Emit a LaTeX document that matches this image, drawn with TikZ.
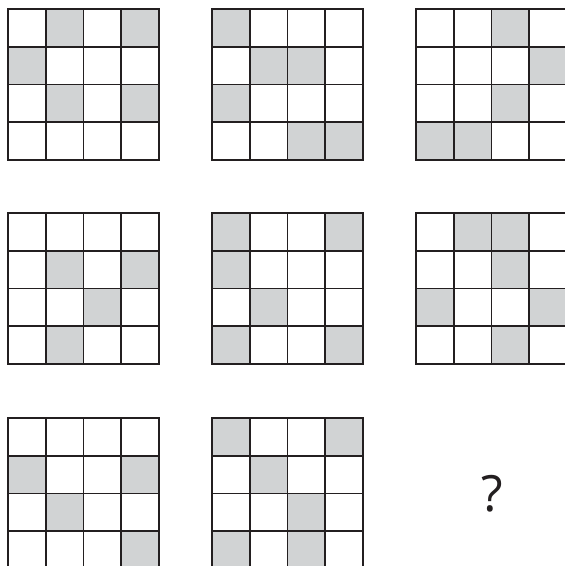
\documentclass[tikz,border=0pt]{standalone}
\usepackage{fontspec}
\setsansfont{Open Sans}
\definecolor{cellgray}{RGB}{209,211,212}
\definecolor{gridink}{RGB}{35,31,32}
\newcommand{\cellsize}{37.75}

\begin{document}
\begin{tikzpicture}[x=1pt,y=-1pt,
    shadedcell/.style={fill=cellgray},
    gridpen/.style={draw=gridink,line width=1.9pt,line cap=rect}]
\useasboundingbox (0,0) rectangle (565,566);
\clip (0,0) rectangle (565,566);
% ================= the eight 4x4 patterns (col/row of grey cells) =================
\foreach \gx/\gy/\shaded in {
    8/9/{1/0,3/0,0/1,1/2,3/2},
    212/9/{0/0,1/1,2/1,0/2,2/3,3/3},
    416/9/{2/0,3/1,2/2,0/3,1/3},
    8/213/{1/1,3/1,2/2,1/3},
    212/213/{0/0,3/0,0/1,1/2,0/3,3/3},
    416/213/{1/0,2/0,2/1,0/2,3/2,2/3},
    8/418/{0/1,3/1,1/2,3/3},
    212/418/{0/0,3/0,1/1,2/2,0/3,2/3}}
{
  \begin{scope}[shift={(\gx,\gy)}]
    \foreach \c/\r in \shaded
      \fill[shadedcell] (\c*\cellsize,\r*\cellsize) rectangle ++(\cellsize,\cellsize);
    % grid lines
    \foreach \i in {0,...,4} {
      \draw[gridpen] (\i*\cellsize,0) -- (\i*\cellsize,4*\cellsize);
      \draw[gridpen] (0,\i*\cellsize) -- (4*\cellsize,\i*\cellsize);
    }
  \end{scope}
}
% ================= missing pattern =================
\node[gridink,font=\sffamily\fontsize{50}{50}\selectfont] (qmark) at (492,494) {?};
\end{tikzpicture}
\end{document}
